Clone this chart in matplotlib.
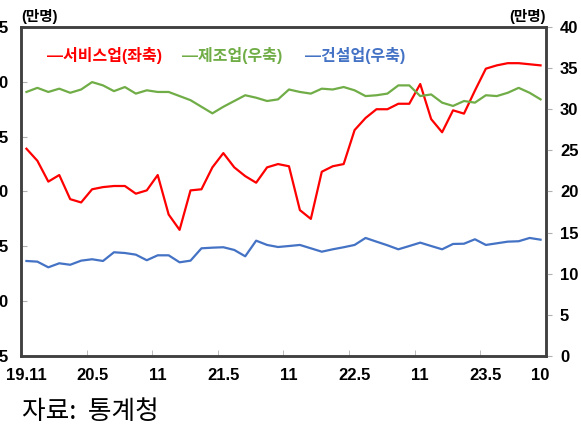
import numpy as np
import matplotlib.pyplot as plt
from matplotlib.ticker import FixedLocator, FuncFormatter

plt.rcParams['font.family'] = ['Liberation Sans', 'Noto Sans CJK KR', 'DejaVu Sans']

# 2019.11 ~ 2023.10, 월별
months = []
for y in range(2019, 2024):
    for m in range(1, 13):
        if (y, m) >= (2019, 11) and (y, m) <= (2023, 10):
            months.append(f'{y % 100}.{m}')

# 서비스업 (좌축, 만명)
service = [103.9, 102.8, 100.9, 101.5, 99.3, 99.0, 100.2, 100.4, 100.5, 100.5,
           99.8, 100.1, 101.5, 97.9, 96.5, 100.1, 100.2, 102.2, 103.5, 102.2,
           101.4, 100.8, 102.2, 102.5, 102.3, 98.3, 97.5, 101.8, 102.3, 102.5,
           105.6, 106.7, 107.5, 107.5, 108.0, 108.0, 109.8, 106.6, 105.4, 107.4,
           107.1, 109.2, 111.2, 111.5, 111.7, 111.7, 111.6, 111.5]
# 제조업 (우축, 만명)
manuf = [32.1, 32.6, 32.1, 32.5, 32.0, 32.4, 33.3, 32.9, 32.2, 32.7,
         31.9, 32.3, 32.1, 32.1, 31.6, 31.1, 30.3, 29.5, 30.3, 31.0,
         31.7, 31.4, 31.0, 31.2, 32.4, 32.1, 31.9, 32.5, 32.4, 32.7,
         32.3, 31.6, 31.7, 31.9, 32.9, 32.9, 31.6, 31.8, 30.8, 30.4,
         31.0, 30.8, 31.7, 31.6, 32.0, 32.6, 32.0, 31.2]
# 건설업 (우축, 만명)
constr = [11.55, 11.47, 10.78, 11.27, 11.09, 11.59, 11.76, 11.55, 12.61, 12.52,
          12.32, 11.64, 12.24, 12.24, 11.39, 11.59, 13.09, 13.17, 13.22, 12.89,
          12.12, 14.02, 13.50, 13.25, 13.37, 13.50, 13.09, 12.68, 12.97, 13.22,
          13.50, 14.35, 13.90, 13.46, 12.97, 13.37, 13.78, 13.37, 12.97, 13.62,
          13.65, 14.19, 13.50, 13.70, 13.90, 13.95, 14.35, 14.14]

tick_idx = [0, 6, 12, 18, 24, 30, 36, 42, 47]
tick_lab = ['19.11', '20.5', '11', '21.5', '11', '22.5', '11', '23.5', '10']

x = np.arange(len(months))
spine_col = '#404040'

fig = plt.figure(figsize=(5.81, 4.25), dpi=100)
ax = fig.add_axes([0.0361, 0.1624, 0.9037, 0.7741])
ax2 = ax.twinx()

ax.plot(x, service, color='#FF0000', lw=1.6, zorder=3)
ax2.plot(x, manuf, color='#70AD47', lw=1.6)
ax2.plot(x, constr, color='#4472C4', lw=1.6)

ax.set_xlim(-0.5, len(months) - 0.5)
ax.set_ylim(85, 115)
ax.set_yticks(np.arange(85, 116, 5))
# 원본 그림에서 좌축 눈금은 끝자리만 보임
ax.yaxis.set_major_formatter(FuncFormatter(lambda v, p: f'{int(round(v))}'[-1]))
ax2.set_ylim(0, 40)
ax2.set_yticks(np.arange(0, 41, 5))

ax.set_xticks(tick_idx)
ax.set_xticklabels(tick_lab)
ax.xaxis.set_minor_locator(FixedLocator(np.arange(5.5, 47, 6)))
ax.tick_params(axis='x', which='major', length=0, pad=9, labelsize=12)
ax.tick_params(axis='x', which='minor', direction='in', length=4, color='#b0b0b0')
ax.tick_params(axis='y', direction='in', length=4, color='#b0b0b0', pad=9.5, labelsize=12)
ax2.tick_params(axis='y', direction='out', length=4, color='#b0b0b0', pad=6, labelsize=12)

for a in (ax, ax2):
    for lab in a.get_xticklabels() + a.get_yticklabels():
        lab.set_fontweight('bold')
    for s in a.spines.values():
        s.set_color(spine_col)
        s.set_linewidth(1.8)

fig.text(0.036, 0.943, '(만명)', fontsize=10.5, fontweight='bold', ha='left', va='bottom')
fig.text(0.940, 0.943, '(만명)', fontsize=10.5, fontweight='bold', ha='right', va='bottom')

ax.text(0.050, 0.912, '—서비스업(좌축)', transform=ax.transAxes, color='#FF0000',
        fontsize=11.5, fontweight='bold', va='center')
ax.text(0.307, 0.912, '—제조업(우축)', transform=ax.transAxes, color='#70AD47',
        fontsize=11.5, fontweight='bold', va='center')
ax.text(0.541, 0.912, '—건설업(우축)', transform=ax.transAxes, color='#4472C4',
        fontsize=11.5, fontweight='bold', va='center')

fig.text(0.038, 0.0, '자료:  통계청', fontsize=18.5, ha='left', va='bottom',
         family=['Noto Sans CJK KR', 'DejaVu Sans'])

fig.savefig('out.png', dpi=100)
